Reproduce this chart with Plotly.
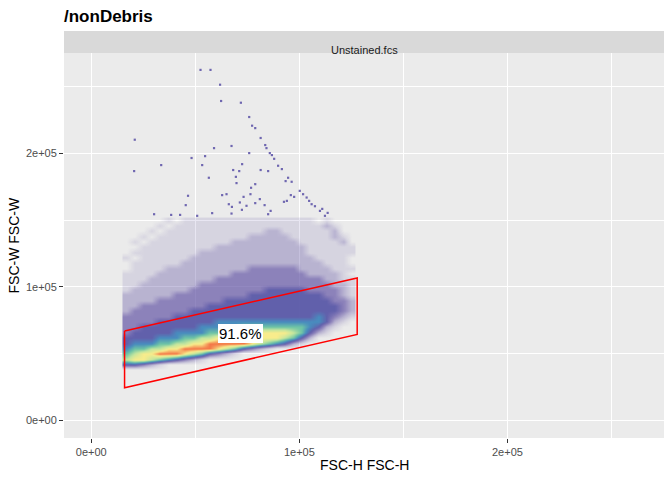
import numpy as np
import plotly.graph_objects as go

# FSC-H / FSC-W event density on a 4e3 x 4e3 grid.
# One string per FSC-H column (bottom row first), digit = density level 0-9.
x_centers = [17e3 + 4e3 * i for i in range(28)]
y_centers = [38e3 + 4e3 * j for j in range(29)]
density_columns = [
    "04765443333222211110010000000",  # 17e3
    "04876544333322221111101010000",  # 21e3
    "03886544433332222111111101000",  # 25e3
    "02787544433332222211111110100",  # 29e3
    "01697654443333222221111111010",  # 33e3
    "00598654443333222222111111101",  # 37e3
    "00498755444333322222111111110",  # 41e3
    "00389765444333322222211111111",  # 45e3
    "00279865444433332222221111111",  # 49e3
    "00169875544433333222222111111",  # 53e3
    "00049976544443333222222111111",  # 57e3
    "00038986554443333322222211111",  # 61e3
    "00027986554444333322222211111",  # 65e3
    "00016987554444333332222221111",  # 69e3
    "00004997654444333332222221111",  # 73e3
    "00003898654444433333222222111",  # 77e3
    "00002788654444433333222222111",  # 81e3
    "00001688654444443333222222211",  # 85e3
    "00000588654444443333222222211",  # 89e3
    "00000478654444443333222222111",  # 93e3
    "00000267654444443333222221111",  # 97e3
    "00000146654444443332222211111",  # 101e3
    "00000024554444433322221111111",  # 105e3
    "00000002455444433322211111110",  # 109e3
    "00000001244444333222111111121",  # 113e3
    "00000000123443332221111112210",  # 117e3
    "00000000012333222111111121000",  # 121e3
    "00000000001222111101001100000",  # 125e3
]

# isolated events above the dense cloud (FSC-H, FSC-W)
outlier_x = [
    52.5e3, 57.3e3, 61.9e3, 62.4e3, 71.9e3, 75.9e3, 77.3e3, 78.8e3, 81.4e3, 83.6e3,
    84.2e3, 85.8e3, 86.8e3, 87.9e3, 89.8e3, 91.6e3, 94.6e3, 93.4e3, 96.3e3, 100.2e3,
    101.8e3, 103.5e3, 105.9e3, 109.9e3, 112.3e3, 20.9e3, 20.6e3, 33.6e3, 48.2e3, 54.7e3,
    59.0e3, 67.4e3, 75.9e3, 53.3e3, 72.5e3, 56.5e3, 68.2e3, 71.1e3, 69.5e3, 69.8e3,
    76.8e3, 78.8e3, 81.4e3, 85.0e3, 46.5e3, 45.4e3, 30.2e3, 38.4e3, 42.7e3, 50.9e3,
    65.0e3, 62.9e3, 73.2e3, 76.5e3, 71.4e3, 66.1e3, 67.6e3, 74.6e3, 78.8e3, 83.3e3,
    81.0e3, 92.6e3, 94.0e3, 95.9e3, 97.5e3, 58.1e3, 72.4e3, 86.2e3, 85.0e3, 67.4e3,
    104.7e3, 107.5e3, 111.0e3, 113.6e3,
]
outlier_y = [
    262.6e3, 262.6e3, 251.5e3, 239.3e3, 238.0e3, 227.3e3, 220.8e3, 219.0e3, 211.6e3, 206.3e3,
    204.0e3, 200.3e3, 198.8e3, 196.0e3, 190.8e3, 188.3e3, 181.8e3, 179.3e3, 178.8e3, 172.0e3,
    169.5e3, 167.0e3, 162.0e3, 157.0e3, 153.3e3, 210.3e3, 186.8e3, 191.3e3, 196.6e3, 198.0e3,
    204.0e3, 205.6e3, 200.3e3, 191.3e3, 192.0e3, 181.8e3, 187.6e3, 186.8e3, 182.5e3, 177.8e3,
    174.3e3, 177.0e3, 187.6e3, 186.8e3, 168.3e3, 161.3e3, 154.5e3, 154.0e3, 154.0e3, 153.3e3,
    169.5e3, 168.8e3, 167.5e3, 169.5e3, 163.3e3, 162.0e3, 160.0e3, 160.8e3, 162.8e3, 161.3e3,
    165.8e3, 163.8e3, 164.5e3, 168.8e3, 167.5e3, 155.3e3, 157.8e3, 157.0e3, 154.5e3, 155.0e3,
    164.5e3, 160.5e3, 158.5e3, 155.5e3,
]

gate_x = [16e3, 127.8e3, 127.8e3, 16e3, 16e3]
gate_y = [67e3, 106.8e3, 64.5e3, 24.5e3, 67e3]
gate_label = "91.6%"
gate_label_xy = (71.7e3, 65.3e3)

tick_vals = [0, 1e5, 2e5]
tick_text = ["0e+00", "1e+05", "2e+05"]
axis_range = [-13107, 275250]

# colour per density level 0..9 (level 0 fully transparent)
level_colors = [
    "rgba(94,79,162,0)", "rgba(94,79,162,0.14)", "rgba(94,79,162,0.36)",
    "rgba(94,79,162,0.68)", "rgba(90,88,168,0.95)", "rgb(72,140,190)",
    "rgb(110,196,166)", "rgb(196,230,158)", "rgb(248,236,140)", "rgb(244,120,72)",
]

z = np.array([[int(ch) for ch in col] for col in density_columns], dtype=float).T
scale = [[i / 9, c] for i, c in enumerate(level_colors)]

FONT = "Liberation Sans, Arial, Helvetica, sans-serif"
PLOT_H = 480 - 53 - 42

fig = go.Figure()
fig.add_trace(go.Heatmap(
    x=x_centers, y=y_centers, z=z, colorscale=scale, zmin=0, zmax=9,
    zsmooth="best", showscale=False, hoverinfo="skip",
))
fig.add_trace(go.Scatter(
    x=outlier_x, y=outlier_y, mode="markers",
    marker=dict(symbol="square", size=2.2, color="#6f67b0", line_width=0),
    hoverinfo="skip",
))
fig.add_trace(go.Scatter(
    x=gate_x, y=gate_y, mode="lines", line=dict(color="#ff0000", width=1.5),
    hoverinfo="skip",
))

fig.add_annotation(
    x=gate_label_xy[0], y=gate_label_xy[1], text=gate_label, showarrow=False,
    font=dict(family=FONT, size=15, color="black"), bgcolor="white",
    borderpad=1, borderwidth=0,
)

# facet strip
fig.add_shape(type="rect", xref="paper", yref="paper", x0=0, x1=1,
              y0=1, y1=1 + 22 / PLOT_H, fillcolor="#d9d9d9", line_width=0, layer="below")
fig.add_annotation(xref="paper", yref="paper", x=0.5, y=1 + 11 / PLOT_H,
                   text="Unstained.fcs", showarrow=False,
                   font=dict(family=FONT, size=11, color="#1a1a1a"))

# axis titles
fig.add_annotation(xref="paper", yref="paper", x=0.5, y=0, yshift=-27, yanchor="middle",
                   text="FSC-H FSC-H", showarrow=False,
                   font=dict(family=FONT, size=14, color="black"))
fig.add_annotation(xref="paper", yref="paper", x=0, xshift=-51, y=0.5, xanchor="center",
                   text="FSC-W FSC-W", textangle=-90, showarrow=False,
                   font=dict(family=FONT, size=14, color="black"))

axis_common = dict(
    range=axis_range, tickvals=tick_vals, ticktext=tick_text, automargin=False,
    showgrid=True, gridcolor="white", gridwidth=1.3, zeroline=False, showline=False,
    ticks="outside", ticklen=4, tickcolor="#333333", tickwidth=1,
    tickfont=dict(family=FONT, size=11, color="#4d4d4d"),
    minor=dict(tickvals=[5e4, 1.5e5, 2.5e5], showgrid=True, gridcolor="white",
               gridwidth=0.6, ticklen=0),
)

fig.update_layout(
    width=672, height=480,
    margin=dict(l=64, r=8, t=53, b=42),
    paper_bgcolor="white", plot_bgcolor="#ebebeb",
    showlegend=False,
    title=dict(text="<b>/nonDebris</b>", x=64 / 672, xanchor="left", xref="container",
               y=1 - 16 / 480, yanchor="middle", yref="container",
               font=dict(family=FONT, size=17, color="black")),
    xaxis=axis_common,
    yaxis=axis_common,
)

# drop the default page margin so the figure sits at the window's top-left corner
fig.write_html("out.html", config={"displayModeBar": False},
               post_script="document.body.style.margin = '0';")
